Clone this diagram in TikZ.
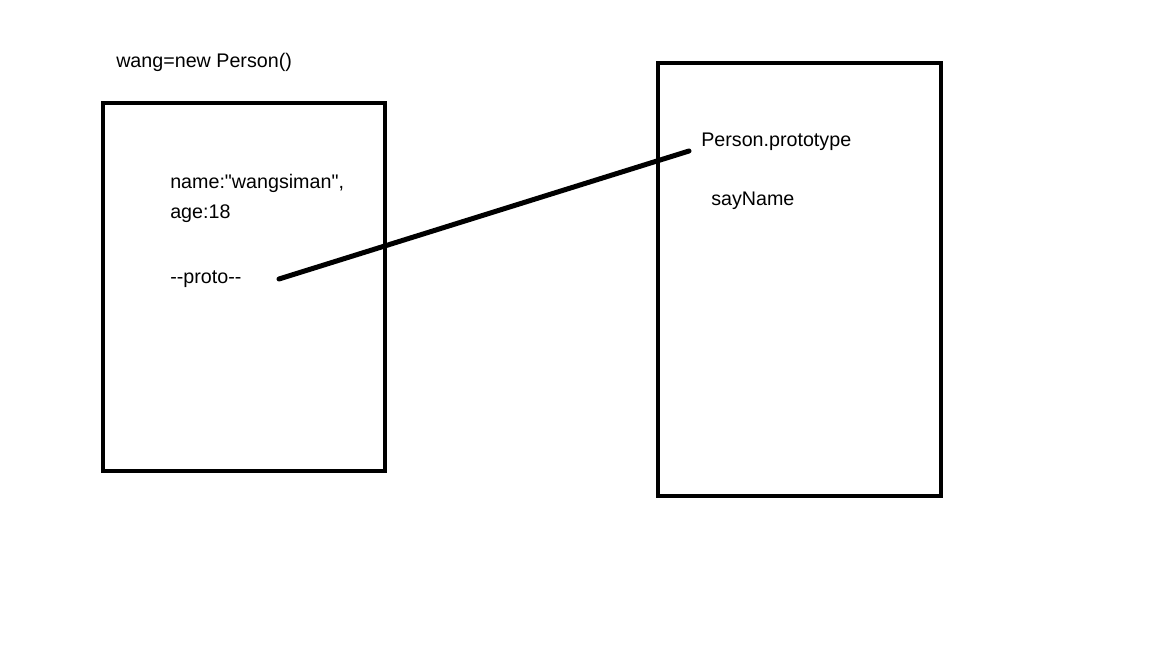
\documentclass[tikz,border=0pt]{standalone}
\usepackage{fontspec}
\setmainfont{Liberation Sans}[Ligatures=TeXOff]
\begin{document}
\begin{tikzpicture}[x=0.025cm,y=-0.025cm,
  box/.style={draw=black,line width=4*0.711pt},
  lbl/.style={anchor=west,inner sep=0pt,font=\fontsize{14pt}{16pt}\selectfont},
  link/.style={draw=black,line width=5*0.711pt,line cap=round}]
\useasboundingbox (0,0) rectangle (1152,648);
\draw[box] (103,103) rectangle (385,471);
\draw[box] (658,63) rectangle (941,496);
\node[lbl] (title) at (116,62) {wang=new Person()};
\node[lbl] (name) at (170,183) {name:"wangsiman",};
\node[lbl] (age) at (170,214) {age:18};
\node[lbl] (proto) at (170,279) {--proto--};
\node[lbl] (pp) at (701,142) {Person.prototype};
\node[lbl] (say) at (711,201) {sayName};
\coordinate (a) at (279,279);
\coordinate (b) at (689,151);
\draw[link] (a) -- (b);
\end{tikzpicture}
\end{document}
